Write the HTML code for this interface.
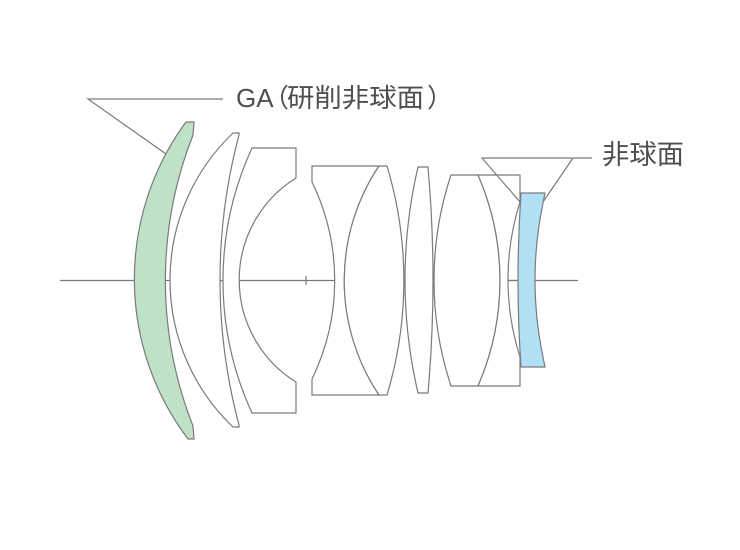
<!DOCTYPE html>
<html>
<head>
<meta charset="utf-8">
<style>
  html,body{margin:0;padding:0;background:#fff;}
  svg{display:block;}
</style>
</head>
<body>
<svg width="740" height="550" viewBox="0 0 740 550" xmlns="http://www.w3.org/2000/svg">
  <rect width="740" height="550" fill="#fff"/>
  <g stroke="#7a7a7a" stroke-width="1.2" fill="none" stroke-linejoin="miter">
    <!-- optical axis -->
    <line x1="60" y1="280.5" x2="578" y2="280.5"/>
    <line x1="306" y1="276" x2="306" y2="285"/>

    <!-- lens 1 (green, GA aspheric) -->
    <path d="M186,122 L194,122 L193,135 A397,397 0 0 0 193,426 L194,439 L188,439 A265,265 0 0 1 186,122 Z" fill="#bfe1c6"/>
    <!-- lens 2 -->
    <path d="M233,133 L239,133 L239,135 A563,563 0 0 0 239,425 L239,427 L233,427 A203,203 0 0 1 233,133 Z" fill="#fff"/>
    <!-- lens 3 -->
    <path d="M252,148 L296,148 L296,178 A120,120 0 0 0 296,382 L296,413 L252,413 A317,317 0 0 1 252,148 Z" fill="#fff"/>
    <!-- lens 4 -->
    <path d="M312,166 L379,166 A206,206 0 0 0 379,395 L312,395 L312,379 A225,225 0 0 0 312,182 Z" fill="#fff"/>
    <!-- lens 5 -->
    <path d="M379,166 L387,166 A397,397 0 0 1 387,395 L379,395 A206,206 0 0 1 379,166 Z" fill="#fff"/>
    <!-- lens 6 -->
    <path d="M418,167 L428,167 A1279,1279 0 0 1 428,393 L418,393 A498,498 0 0 1 418,167 Z" fill="#fff"/>
    <!-- lens 7 -->
    <path d="M451,175 L478,175 A264,264 0 0 1 478,386 L451,386 A336,336 0 0 1 451,175 Z" fill="#fff"/>
    <!-- lens 8 -->
    <path d="M478,175 L520,175 L520,202 A256,256 0 0 0 520,357 L520,386 L478,386 A264,264 0 0 0 478,175 Z" fill="#fff"/>
    <!-- redraw axis in air gap between lens 8 and blue -->
    <line x1="508" y1="280.5" x2="519" y2="280.5"/>
    <!-- lens 9 (blue aspheric) -->
    <path d="M521,193 L545,193 L543,203 C537,232 535,260 535,280 C535,300 537,328 543,357 L545,367 L521,367 Q515,280 521,193 Z" fill="#b1dff3"/>

    <!-- leader lines -->
    <polyline points="223,99 88,99 166,154"/>
    <polyline points="520,202 482,158 592,158"/>
    <line x1="573" y1="158" x2="543" y2="202"/>
  </g>

  <g fill="#4f4f4f" font-family="'Liberation Sans','Noto Sans CJK JP',sans-serif">
    <text x="236" y="107" font-size="26">GA</text>
    <text x="263" y="107" font-size="26" font-family="'Noto Sans CJK JP',sans-serif">（</text>
    <text x="287" y="107" font-size="26" font-family="'Noto Sans CJK JP',sans-serif" textLength="137" lengthAdjust="spacingAndGlyphs">研削非球面</text>
    <text x="427" y="107" font-size="26" font-family="'Noto Sans CJK JP',sans-serif">）</text>
    <text x="602" y="164" font-size="27" font-family="'Noto Sans CJK JP',sans-serif" textLength="82" lengthAdjust="spacingAndGlyphs">非球面</text>
  </g>
</svg>
</body>
</html>
